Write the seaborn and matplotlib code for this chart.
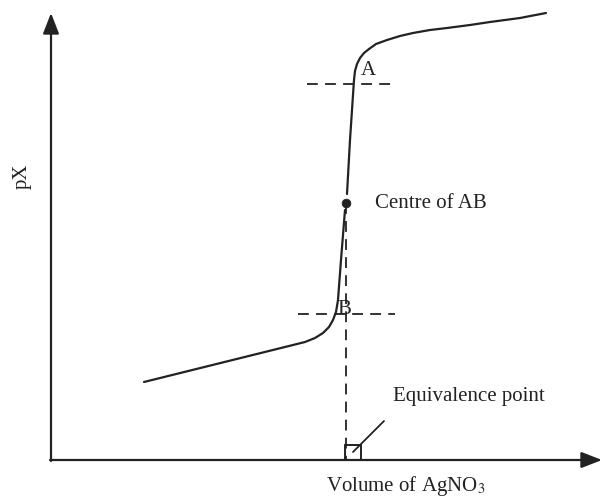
import matplotlib
matplotlib.use("Agg")
import matplotlib.pyplot as plt
import seaborn as sns
from matplotlib.patches import Rectangle

# ----------------------------
# Data (pixel space, y grows downward)
lower_x = [144, 293, 305, 315, 323, 329, 333, 336, 338, 341, 345]
lower_y = [382, 345, 342, 338, 333, 327, 320, 312, 300, 260, 210]
upper_x = [347, 350, 353, 354, 355, 357, 360, 364, 369, 376, 387, 400, 413, 430, 447, 470, 490, 520, 546]
upper_y = [194, 140, 95, 80, 71, 64, 58, 53, 49, 44, 40, 36, 33, 30, 28, 25, 22, 18, 13]
centre = (346, 203)
line_a_x = [307, 393]
line_a_y = 84
line_b_x = [298, 395]
line_b_y = 314
labels = ["A", "B", "Centre of AB", "Equivalence point", "pX"]
# ----------------------------

ink = "#222222"
sns.set_theme(style="white")
plt.rcParams["font.family"] = ["Liberation Serif", "DejaVu Serif"]
plt.rcParams["mathtext.fontset"] = "stix"

fig = plt.figure(figsize=(6.04, 4.99), dpi=100)
ax = fig.add_axes([0, 0, 1, 1])
ax.set_xlim(0, 604)
ax.set_ylim(499, 0)
ax.axis("off")

# axes with arrows
arrow = dict(arrowstyle="-|>,head_length=0.9,head_width=0.35", color=ink, lw=1.6,
             shrinkA=0, shrinkB=0, mutation_scale=14)
ax.annotate("", xy=(51, 13), xytext=(51, 461), arrowprops=arrow)
ax.annotate("", xy=(602, 460), xytext=(50, 460), arrowprops=arrow)

# titration curve
sns.lineplot(x=lower_x, y=lower_y, sort=False, color=ink, lw=1.6, ax=ax)
sns.lineplot(x=upper_x, y=upper_y, sort=False, color=ink, lw=1.6, ax=ax)
sns.scatterplot(x=[centre[0]], y=[centre[1]], color=ink, s=40, edgecolor=ink, ax=ax, zorder=5)

# dashed guides
ax.plot(line_a_x, [line_a_y] * 2, ls=(0, (6, 4)), color=ink, lw=1.3)
ax.plot(line_b_x, [line_b_y] * 2, ls=(0, (6, 4)), color=ink, lw=1.3)
ax.plot([centre[0], centre[0]], [centre[1], 460], ls=(0, (6, 4)), color=ink, lw=1.3)

# equivalence point marker
ax.add_patch(Rectangle((345, 445), 16, 15, fill=False, ec=ink, lw=1.4))
ax.plot([353, 384], [452, 421], color=ink, lw=1.3)

fs = 15
ax.text(361, 70, labels[0], fontsize=fs, color=ink, ha="left", va="center")
ax.text(337, 309, labels[1], fontsize=fs, color=ink, ha="left", va="center")
ax.text(375, 203, labels[2], fontsize=fs, color=ink, ha="left", va="center")
ax.text(393, 397, labels[3], fontsize=fs, color=ink, ha="left", va="center")
ax.text(22, 176, labels[4], fontsize=fs, color=ink, ha="center", va="center", rotation=90)
ax.text(406, 486, r"Volume of AgNO$_3$", fontsize=fs, color=ink, ha="center", va="center")

fig.savefig("out.png", dpi=100, facecolor="white")
plt.close(fig)
